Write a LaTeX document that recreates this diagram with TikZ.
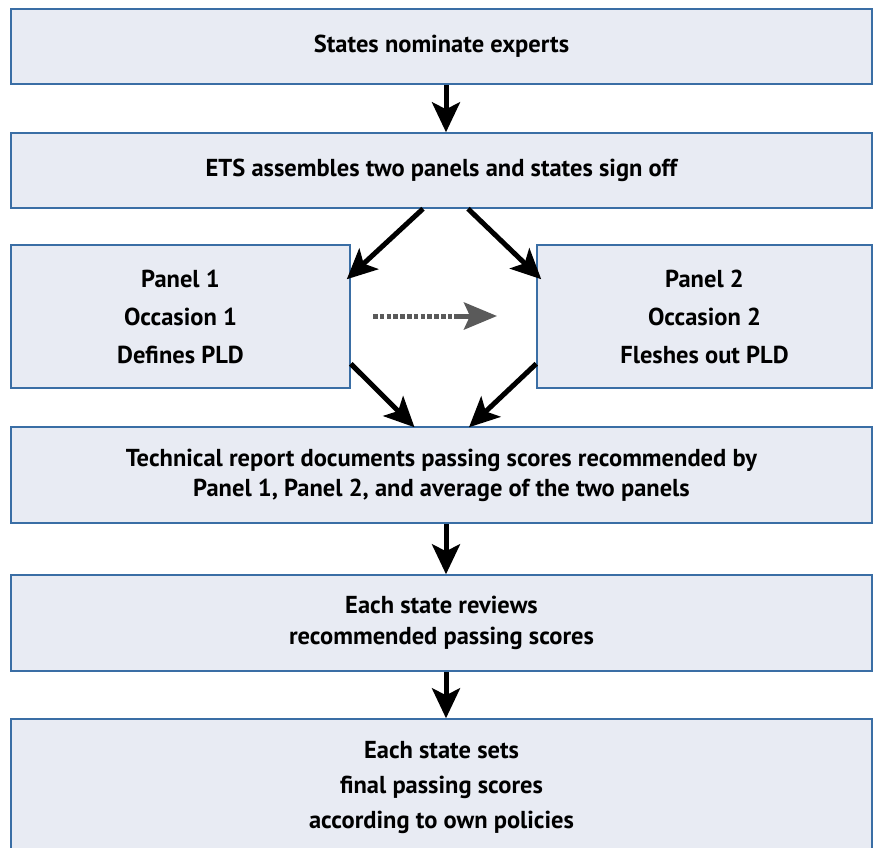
\documentclass[tikz,border=0pt]{standalone}
\usepackage{fontspec}
\setmainfont{PT Sans}
\usetikzlibrary{arrows.meta,calc}
\definecolor{boxfill}{HTML}{E8EBF3}
\definecolor{boxline}{HTML}{3A6EA5}
\definecolor{dotgray}{HTML}{5A5A5A}
\tikzset{
  box/.style={draw=boxline, fill=boxfill, line width=1.5pt, rectangle, align=center, inner sep=0pt, font=\bfseries\fontsize{24.5pt}{30pt}\selectfont},
  arr/.style={draw=black, line width=5pt, -{Stealth[length=30pt,width=28pt,inset=7pt]}},
  dotline/.style={draw=dotgray, line width=5pt, dash pattern=on 4.5pt off 2.3pt},
  grayarr/.style={draw=dotgray, line width=5pt, -{Stealth[length=33pt,width=27pt,inset=6pt]}}
}
\begin{document}
\begin{tikzpicture}[x=1pt,y=-1pt]
\useasboundingbox (0,0) rectangle (874,847);
\node[box, minimum width=861pt, minimum height=75pt] (b1) at (441.5,46.5) {States nominate experts};
\node[box, minimum width=861pt, minimum height=75pt] (b2) at (441.5,170.5) {ETS assembles two panels and states sign off};
\node[box, minimum width=339pt, minimum height=143pt, font=\bfseries\fontsize{24.5pt}{38pt}\selectfont] (p1) at (180.5,316.5) {Panel 1\\Occasion 1\\Defines PLD};
\node[box, minimum width=335pt, minimum height=143pt, font=\bfseries\fontsize{24.5pt}{38pt}\selectfont] (p2) at (704.5,316.5) {Panel 2\\Occasion 2\\Fleshes out PLD};
\node[box, minimum width=861pt, minimum height=96pt] (b4) at (441.5,475) {Technical report documents passing scores recommended by\\Panel 1, Panel 2, and average of the two panels};
\node[box, minimum width=861pt, minimum height=96pt, font=\bfseries\fontsize{24.5pt}{31pt}\selectfont] (b5) at (441.5,623) {Each state reviews\\recommended passing scores};
\node[box, minimum width=861pt, minimum height=138pt, font=\bfseries\fontsize{24.5pt}{35pt}\selectfont] (b6) at (441.5,788) {Each state sets\\final passing scores\\according to own policies};
\draw[arr] ($(b1.south)+(4.5,0)$) -- ($(b2.north)+(4.5,0)$);
\draw[arr] ($(b2.south)+(-18.5,0)$) -- ($(p1.north east)+(-4,35)$);
\draw[arr] ($(b2.south)+(26.5,0)$) -- ($(p2.north west)+(5,35)$);
\draw[arr] ($(p1.south east)+(0,-25)$) -- ($(b4.north)+(-27,1)$);
\draw[arr] ($(p2.south west)+(0,-25)$) -- ($(b4.north)+(27.5,1)$);
\draw[arr] ($(b4.south)+(4.5,0)$) -- ($(b5.north)+(4.5,0)$);
\draw[arr] ($(b5.south)+(4.5,0)$) -- ($(b6.north)+(4.5,0)$);
\coordinate (d1) at (373,316);
\coordinate (d2) at (456,316);
\coordinate (d3) at (497,316);
\draw[dotline] (d1) -- (d2);
\draw[grayarr] ($(d2)+(-2,0)$) -- (d3);
\end{tikzpicture}
\end{document}
